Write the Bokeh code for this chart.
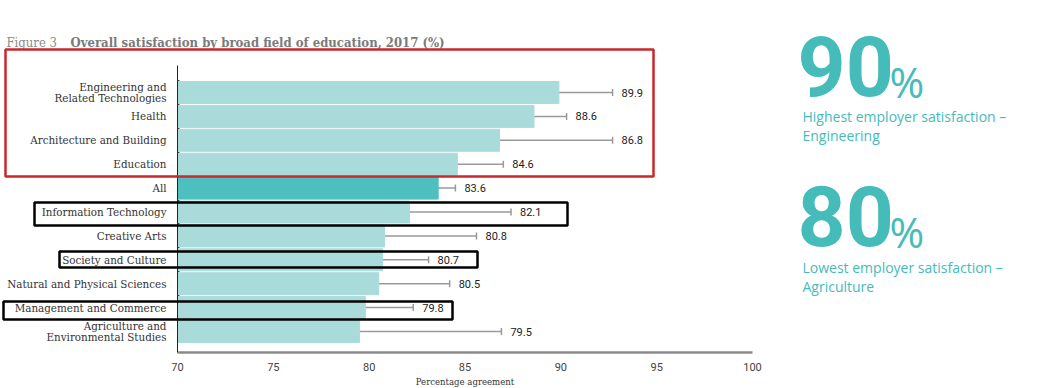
from bokeh.plotting import figure
from bokeh.models import (ColumnDataSource, FixedTicker, Whisker, TeeHead, Label,
                          BoxAnnotation, Range1d)
from bokeh.core.properties import value
from bokeh.embed import file_html
from bokeh.resources import INLINE

# ---- data (top to bottom as shown) ----
fields = ["Engineering and\nRelated Technologies", "Health", "Architecture and Building",
          "Education", "All", "Information Technology", "Creative Arts",
          "Society and Culture", "Natural and Physical Sciences",
          "Management and Commerce", "Agriculture and\nEnvironmental Studies"]
satisfaction = [89.9, 88.6, 86.8, 84.6, 83.6, 82.1, 80.8, 80.7, 80.5, 79.8, 79.5]
ci_lower = [87.2, 87.0, 81.1, 82.5, 82.7, 77.0, 76.1, 78.5, 76.8, 77.5, 72.3]
ci_upper = [92.7, 90.3, 92.7, 87.0, 84.5, 87.4, 85.6, 83.1, 84.2, 82.3, 86.9]
x_ticks = [70, 75, 80, 85, 90, 95, 100]

LIGHT = "#aadbdb"
DARK = "#4dbfbf"
TEAL = "#45bcba"

n = len(fields)
ypos = [n - 1 - i for i in range(n)]
colors = [DARK if f == "All" else LIGHT for f in fields]
labels = [f"{v:.1f}" for v in satisfaction]

src = ColumnDataSource(dict(y=ypos, v=satisfaction, lo=ci_lower, hi=ci_upper,
                            c=colors, lab=labels, base=[x_ticks[0]] * n))

W, H = 1043, 388
PX_X = 575 / 30.0      # pixels per percentage point
PX_Y = 23.9            # pixels per row
x0 = 70 - 177 / PX_X
x1 = 100 + (W - 752) / PX_X
y0 = 0 - (H - 331) / PX_Y
y1 = (n - 1) + 92 / PX_Y
y_axis_bottom = 0 - (352 - 331) / PX_Y
y_axis_top = (n - 1) + (92 - 65) / PX_Y

p = figure(width=W, height=H, output_backend="svg", toolbar_location=None,
           x_range=Range1d(x0, x1), y_range=Range1d(y0, y1),
           min_border=0, min_border_left=0, min_border_right=0,
           min_border_top=0, min_border_bottom=0,
           outline_line_color=None, background_fill_color="white",
           border_fill_color="white")
p.grid.grid_line_color = None

p.hbar(y="y", left="base", right="v", height=0.92, color="c", source=src)

w = Whisker(base="y", lower="lo", upper="hi", dimension="width", source=src,
            line_color="#9a9a9a", line_width=1.5,
            lower_head=TeeHead(size=7, line_color="#9a9a9a", line_width=1.5),
            upper_head=TeeHead(size=7, line_color="#9a9a9a", line_width=1.5))
p.add_layout(w)

p.text(x="hi", y="y", text="lab", source=src, x_offset=9, text_baseline="middle",
       text_font=value("Roboto"), text_font_size="11px", text_color="#222222")

# x axis
xa = p.xaxis[0]
xa.fixed_location = y_axis_bottom
xa.bounds = (70, 100)
xa.ticker = FixedTicker(ticks=x_ticks)
xa.axis_line_color = "#8a8a8a"
xa.axis_line_width = 2.5
xa.major_tick_line_color = None
xa.minor_tick_line_color = None
xa.major_label_text_font = "Roboto"
xa.major_label_text_font_size = "11px"
xa.major_label_text_color = "#444444"
xa.major_label_standoff = 4
xa.axis_label = "Percentage agreement"
xa.axis_label_text_font = "DejaVu Serif Condensed, DejaVu Serif"
xa.axis_label_text_font_style = "normal"
xa.axis_label_text_font_size = "9.5px"
xa.axis_label_text_color = "#333333"
xa.axis_label_standoff = 2

# y axis
ya = p.yaxis[0]
ya.fixed_location = 70
ya.bounds = (y_axis_bottom, y_axis_top)
ya.ticker = FixedTicker(ticks=ypos, minor_ticks=[y + 0.5 for y in ypos])
ya.major_label_overrides = {y: f for y, f in zip(ypos, fields)}
ya.axis_line_color = "#222222"
ya.axis_line_width = 1
ya.major_tick_line_color = None
ya.minor_tick_line_color = "#444444"
ya.minor_tick_in = 2
ya.minor_tick_out = 0
ya.major_label_text_font = "DejaVu Serif Condensed, DejaVu Serif"
ya.major_label_text_font_size = "11.5px"
ya.major_label_text_color = "#333333"
ya.major_label_text_line_height = 0.85
ya.major_label_standoff = 5


# ---- screen helpers (screen units: from canvas bottom-left) ----
def sy(page_y):
    return H - page_y


def base_y(page_baseline, size_px):
    # compensate renderer's alphabetic-baseline offset
    return sy(page_baseline - 0.37 * size_px)


# ---- title ----
p.add_layout(Label(x=6, y=base_y(47, 13), x_units="screen", y_units="screen",
                   text="Figure 3", text_font="DejaVu Serif Condensed, DejaVu Serif",
                   text_font_size="13px", text_color="#8a8a8a", text_baseline="alphabetic"))
p.add_layout(Label(x=70, y=base_y(47, 13), x_units="screen", y_units="screen",
                   text="Overall satisfaction by broad field of education, 2017 (%)",
                   text_font="DejaVu Serif Condensed, DejaVu Serif", text_font_style="bold",
                   text_font_size="13px", text_color="#7a7a7a", text_baseline="alphabetic"))


# ---- highlight boxes ----
def box(l, r, t, b, col, lw):
    p.add_layout(BoxAnnotation(left=l, right=r, top=sy(t), bottom=sy(b),
                               left_units="screen", right_units="screen",
                               top_units="screen", bottom_units="screen",
                               fill_color=None, fill_alpha=0, line_color=col,
                               line_width=lw, line_alpha=1))


box(5, 653, 49, 176, "#c8292b", 2.5)
box(34, 567, 202, 225, "black", 2.5)
box(59, 477, 251, 267, "black", 2.5)
box(3, 452, 301, 319, "black", 2.5)


# ---- right-side callouts ----
def lab(x, page_y, t, size, style="normal", font="Roboto"):
    p.add_layout(Label(x=x, y=base_y(page_y, size), x_units="screen", y_units="screen",
                       text=t, text_font=font, text_font_size=f"{size}px",
                       text_font_style=style, text_color=TEAL,
                       text_baseline="alphabetic"))


lab(797, 97, "90", 84, "bold", "Roboto")
lab(889, 97, "%", 42, "normal", "Open Sans")
lab(802, 121, "Highest employer satisfaction \u2013", 14, "normal", "Open Sans")
lab(802, 140, "Engineering", 14, "normal", "Open Sans")
lab(797, 247, "80", 84, "bold", "Roboto")
lab(889, 247, "%", 42, "normal", "Open Sans")
lab(802, 272, "Lowest employer satisfaction \u2013", 14, "normal", "Open Sans")
lab(802, 291, "Agriculture", 14, "normal", "Open Sans")

open("out.html", "w").write(file_html(p, INLINE))
